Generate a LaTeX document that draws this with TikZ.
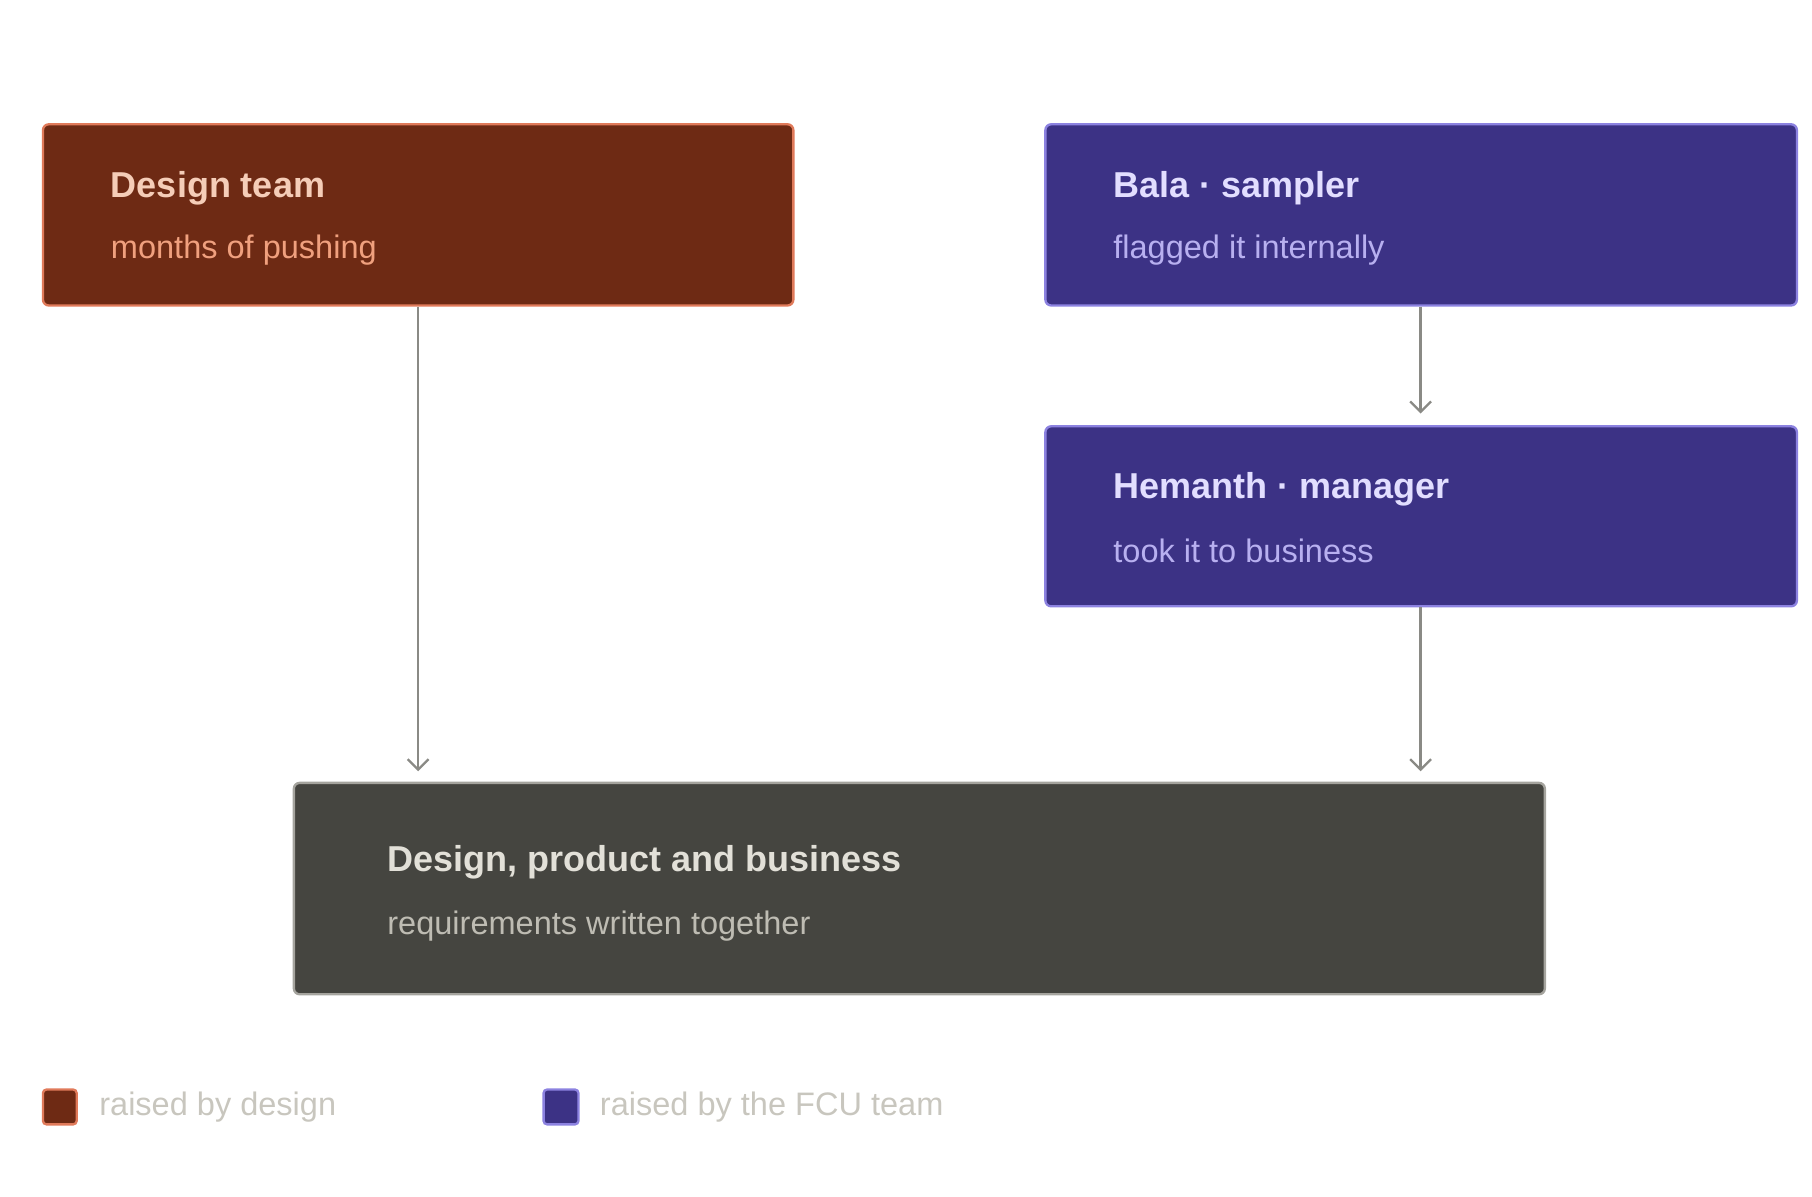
\documentclass[tikz,border=0pt]{standalone}
\usepackage{fontspec}
\setmainfont{Liberation Sans}
\usetikzlibrary{arrows.meta}
\definecolor{dfill}{HTML}{6E2A14}\definecolor{dline}{HTML}{E07A5A}
\definecolor{dtit}{HTML}{F5CDB8}\definecolor{dsub}{HTML}{F0A07E}
\definecolor{pfill}{HTML}{3C3285}\definecolor{pline}{HTML}{8C82E0}
\definecolor{ptit}{HTML}{E2DEFF}\definecolor{psub}{HTML}{B8B0F0}
\definecolor{gfill}{HTML}{454540}\definecolor{gline}{HTML}{A5A49E}
\definecolor{gtit}{HTML}{E2E0D8}\definecolor{gsub}{HTML}{BEBCB3}
\definecolor{arr}{HTML}{8A8A85}\definecolor{leg}{HTML}{C8C6BE}
\tikzset{x=1pt,y=-1pt,
box/.style={rounded corners=5pt,line width=2pt},
tit/.style={anchor=west,font=\bfseries\fontsize{31}{36}\selectfont},
sub/.style={anchor=west,font=\fontsize{28}{33}\selectfont},
con/.style={draw=arr,line width=2pt,-{Straight Barb[length=9pt,width=18pt]}},
legtxt/.style={anchor=west,text=leg,font=\fontsize{28}{33}\selectfont}}
\begin{document}
\begin{tikzpicture}
\useasboundingbox (0,0) rectangle (1560,1030);
\draw[box,fill=dfill,draw=dline] (37,107) rectangle (683,263);
\node[coordinate] (dt) at (360,263) {};
\node[tit,text=dtit] (dtt) at (92,162) {Design team};
\node[sub,text=dsub] (dts) at (92,215) {months of pushing};
\draw[box,fill=pfill,draw=pline] (900,107) rectangle (1547,263);
\node[tit,text=ptit] (bt) at (955,162) {Bala · sampler};
\node[sub,text=psub] (bs) at (955,215) {flagged it internally};
\draw[box,fill=pfill,draw=pline] (900,367) rectangle (1547,522);
\node[tit,text=ptit] (ht) at (955,421) {Hemanth · manager};
\node[sub,text=psub] (hs) at (955,474) {took it to business};
\draw[box,fill=gfill,draw=gline] (253,674) rectangle (1330,856);
\node[tit,text=gtit] (gt) at (330,742) {Design, product and business};
\node[sub,text=gsub] (gs) at (330,797) {requirements written together};
\coordinate (a1) at (360,264); \coordinate (a1e) at (360,664);
\coordinate (a2) at (1223,264); \coordinate (a2e) at (1223,356);
\coordinate (a3) at (1223,523); \coordinate (a3e) at (1223,664);
\draw[con] (a1) -- (a1e);
\draw[con] (a2) -- (a2e);
\draw[con] (a3) -- (a3e);
\draw[rounded corners=3pt,line width=2pt,fill=dfill,draw=dline] (37,938) rectangle (66,968);
\node[legtxt] (l1) at (82,953) {raised by design};
\draw[rounded corners=3pt,line width=2pt,fill=pfill,draw=pline] (468,938) rectangle (498,968);
\node[legtxt] (l2) at (513,953) {raised by the FCU team};
\end{tikzpicture}
\end{document}
